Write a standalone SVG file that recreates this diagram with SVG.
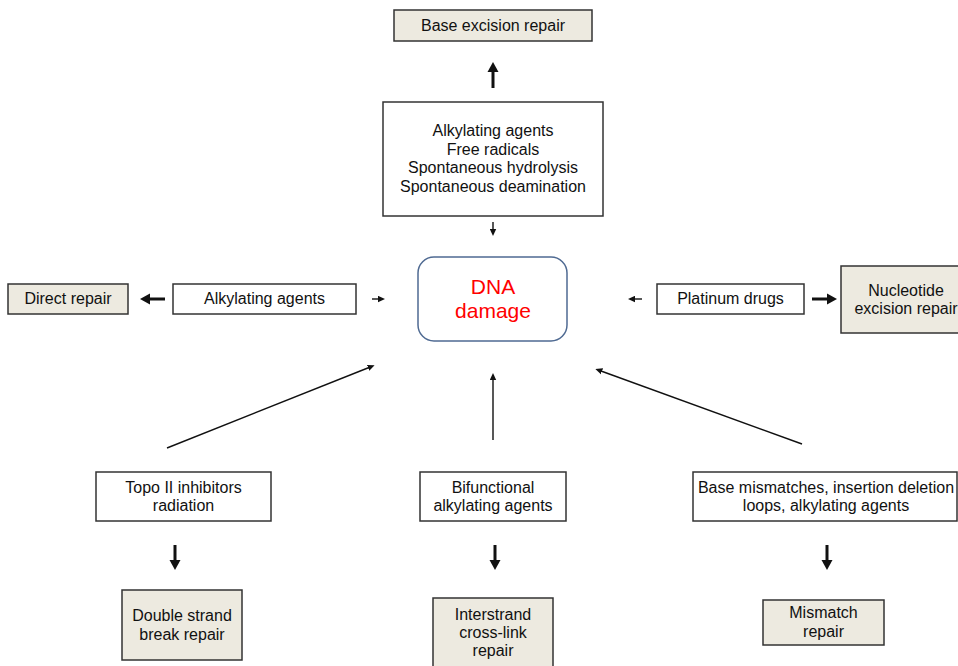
<svg xmlns="http://www.w3.org/2000/svg" width="958" height="666" viewBox="0 0 958 666">
<style>
text{font-family:"Liberation Sans",Arial,sans-serif;font-size:16px;fill:#111;text-anchor:middle}
.src{fill:#fff;stroke:#333;stroke-width:1.5}
.rep{fill:#edeae0;stroke:#333;stroke-width:1.5}
.thin{stroke:#111;stroke-width:1.4;fill:none;marker-end:url(#hThin)}
.thick{stroke:#111;stroke-width:3;fill:none;marker-end:url(#hThick)}
.red{fill:#ff0000;font-size:21px}
</style>
<defs>
<marker id="hThin" markerUnits="userSpaceOnUse" viewBox="0 -3.5 7 7" refX="1" refY="0" markerWidth="7" markerHeight="7" orient="auto"><path d="M0,-3.2 L7,0 L0,3.2 z" fill="#111"/></marker>
<marker id="hThick" markerUnits="userSpaceOnUse" viewBox="0 -6 10 12" refX="0" refY="0" markerWidth="10" markerHeight="12" orient="auto"><path d="M0,-5.5 L10,0 L0,5.5 z" fill="#111"/></marker>
</defs>
<rect width="958" height="666" fill="#fff"/>
<g id="connectors">
<path class="thick" d="M493,88 V72"/>
<path class="thin" d="M493,222 V230"/>
<path class="thick" d="M165,299 H150"/>
<path class="thin" d="M372,299 H379"/>
<path class="thin" d="M642,299 H634"/>
<path class="thick" d="M812,299 H827"/>
<path class="thin" d="M167,448 L369,367.5"/>
<path class="thin" d="M493,440 V379"/>
<path class="thin" d="M802,444 L601,371"/>
<path class="thick" d="M175,545 V560"/>
<path class="thick" d="M495,545 V560"/>
<path class="thick" d="M827,545 V560"/>
</g>
<g id="ber"><rect class="rep" x="394" y="10" width="198" height="31"/><text x="493" y="31">Base excision repair</text></g>
<g id="topsrc"><rect class="src" x="383" y="102" width="220" height="114"/>
<text x="493" y="136">Alkylating agents</text><text x="493" y="154.5">Free radicals</text><text x="493" y="173">Spontaneous hydrolysis</text><text x="493" y="192">Spontaneous deamination</text></g>
<g id="dna"><rect x="418" y="257" width="149" height="84" rx="16" fill="#fff" stroke="#4f6a92" stroke-width="1.5"/>
<text class="red" x="493" y="294">DNA</text><text class="red" x="493" y="318">damage</text></g>
<g id="direct"><rect class="rep" x="8" y="284" width="120" height="30"/><text x="68" y="304">Direct repair</text></g>
<g id="alk"><rect class="src" x="173" y="284" width="183" height="30"/><text x="264.5" y="304">Alkylating agents</text></g>
<g id="plat"><rect class="src" x="657" y="284" width="147" height="30"/><text x="730.5" y="304">Platinum drugs</text></g>
<g id="ner"><rect class="rep" x="841" y="266" width="130" height="67"/><text x="906" y="296">Nucleotide</text><text x="906" y="314">excision repair</text></g>
<g id="topo"><rect class="src" x="96" y="472" width="175" height="49"/><text x="183.5" y="493">Topo II inhibitors</text><text x="183.5" y="511">radiation</text></g>
<g id="bif"><rect class="src" x="420" y="472" width="146" height="49"/><text x="493" y="493">Bifunctional</text><text x="493" y="511">alkylating agents</text></g>
<g id="mism"><rect class="src" x="693" y="472" width="264" height="49"/><text x="826" y="493">Base mismatches, insertion deletion</text><text x="826" y="511">loops, alkylating agents</text></g>
<g id="dsb"><rect class="rep" x="122" y="590" width="120" height="70"/><text x="182" y="621">Double strand</text><text x="182" y="640">break repair</text></g>
<g id="icl"><rect class="rep" x="433" y="598" width="120" height="80"/><text x="493" y="620">Interstrand</text><text x="493" y="638">cross-link</text><text x="493" y="656">repair</text></g>
<g id="mmr"><rect class="rep" x="763" y="600" width="121" height="45"/><text x="823.5" y="618">Mismatch</text><text x="823.5" y="637">repair</text></g>
</svg>
